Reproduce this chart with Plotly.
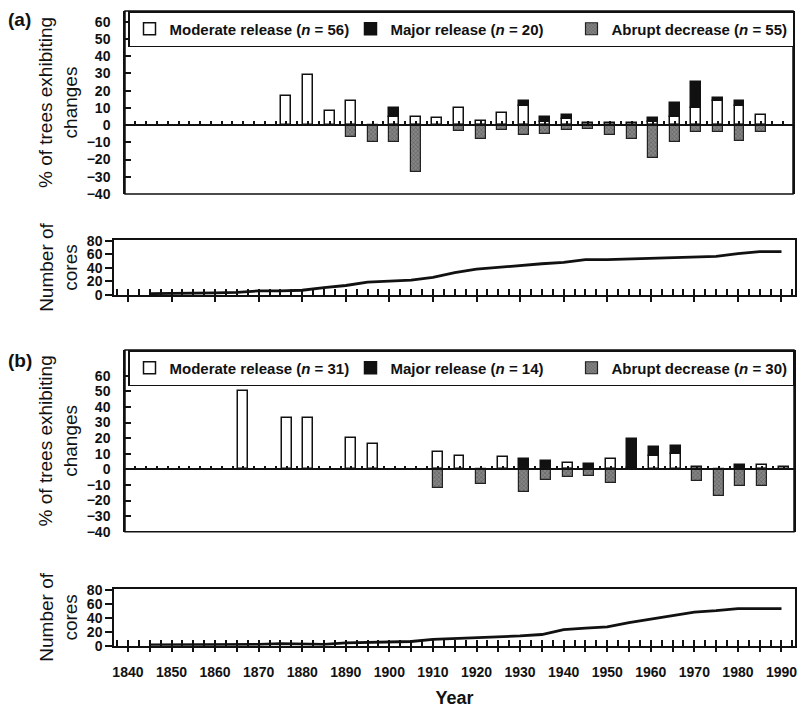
import plotly.graph_objects as go

# picture size; the page's default body margin is removed when the page loads
W, H = 799, 708
PAGE_MARGIN = 0

# ---------------- data ----------------
bar_years_a = [1875, 1880, 1885, 1890, 1895, 1900, 1905, 1910, 1915, 1920, 1925, 1930,
               1935, 1940, 1945, 1950, 1955, 1960, 1965, 1970, 1975, 1980, 1985]
moderate_a = [17, 29, 8, 14, None, 5, 4.5, 4, 10, 2.5, 7, 11,
              2, 3.5, 1.5, 1, 1, 2, 5, 10, 14, 11, 6]
major_a = [None, None, None, None, None, 5, None, None, None, None, None, 3,
           2.5, 2.5, None, None, None, 2, 8, 15, 1.5, 3, None]
abrupt_a = [None, None, None, -7, -10, -10, -27, None, -3.5, -8, -3, -5.5,
            -5, -3, -2.5, -6, -8, -19, -10, -4, -4, -9, -4]

bar_years_b = [1865, 1870, 1875, 1880, 1885, 1890, 1895, 1900, 1905, 1910, 1915, 1920, 1925,
               1930, 1935, 1940, 1945, 1950, 1955, 1960, 1965, 1970, 1975, 1980, 1985, 1990]
moderate_b = [50, None, 33, 33, None, 20, 16.5, None, None, 11, 8.5, None, 8,
              None, None, 4, None, 6.5, 1, 8.5, 10, 1.5, None, 0.5, 3, 1.5]
major_b = [None, None, None, None, None, None, None, None, None, None, None, None, None,
           6.5, 5.5, None, 3.5, None, 18.5, 6, 5, None, None, 2.5, None, None]
abrupt_b = [None, None, None, None, None, None, None, None, None, -12, None, -9.5, None,
            -14.5, -7, -5, -4.5, -8.5, None, None, None, -7.5, -17, -10.5, -10.5, None]

core_years = [1845, 1850, 1855, 1860, 1865, 1870, 1875, 1880, 1885, 1890, 1895, 1900,
              1905, 1910, 1915, 1920, 1925, 1930, 1935, 1940, 1945, 1950, 1955, 1960,
              1965, 1970, 1975, 1980, 1985, 1990]
cores_a = [2, 2, 2, 3, 4, 6, 6, 7, 11, 14, 19, 21,
           22, 26, 33, 38, 41, 43, 46, 48, 52, 52, 53, 54,
           54, 55, 57, 61, 64, 64]
cores_b = [1, 1, 1, 1, 2, 2, 3, 2, 2, 4, 5, 5,
           6, 9, 10, 11, 12, 14, 16, 23, 25, 27, 33, 38,
           43, 48, 50, 53, 53, 53]

legend_a = ["Moderate release (<i>n</i> = 56)", "Major release (<i>n</i> = 20)",
            "Abrupt decrease (<i>n</i> = 55)"]
legend_b = ["Moderate release (<i>n</i> = 31)", "Major release (<i>n</i> = 14)",
            "Abrupt decrease (<i>n</i> = 30)"]

pct_ticks = [-40, -30, -20, -10, 0, 10, 20, 30, 40, 50, 60]
core_ticks = [0, 20, 40, 60, 80]
year_ticks = [1840, 1845, 1850, 1855, 1860, 1865, 1870, 1875, 1880, 1885, 1890, 1895,
              1900, 1905, 1910, 1915, 1920, 1925, 1930, 1935, 1940, 1945, 1950, 1955,
              1960, 1965, 1970, 1975, 1980, 1985, 1990]
year_labels = ["1840", "", "1850", "", "1860", "", "1870", "", "1880", "", "1890", "",
               "1900", "", "1910", "", "1920", "", "1930", "", "1940", "", "1950", "",
               "1960", "", "1970", "", "1980", "", "1990"]

# ---------------- styling / layout helpers ----------------
FONT = "Liberation Sans, Arial, Helvetica, sans-serif"
INK = "#111111"


def px(xpix):
    return (xpix - PAGE_MARGIN) / W


def py(ypix):
    return 1 - (ypix - PAGE_MARGIN) / H


def dx(a, b):
    return [px(a), px(b)]


def dy(top, bottom):
    return [py(bottom), py(top)]


A_bar_x, A_bar_y = dx(125, 793), dy(11, 194)
A_core_x, A_core_y = dx(114, 795), dy(240, 295)
B_bar_x, B_bar_y = dx(125, 794), dy(350, 531.7)
B_core_x, B_core_y = dx(114, 795), dy(589, 645.7)

bar_xrange = [1837.6, 1992.4]
core_xrange = [1836.8, 1993.1]
A_yrange = [-40, 66.3]
B_yrange = [-40, 76.5]
core_yrange = [0, 81]


def zero_pos(dom, rng):
    return dom[0] + (0 - rng[0]) / (rng[1] - rng[0]) * (dom[1] - dom[0])


tickfont = dict(family=FONT, size=14, color=INK, weight="bold")
titlefont = dict(family=FONT, size=19, color=INK)

fig = go.Figure()

white_style = dict(color="white", line=dict(color=INK, width=1.5))
black_style = dict(color=INK, line=dict(color=INK, width=1.5))
gray_style = dict(color="#777777", line=dict(color="#222222", width=1.2),
                  pattern=dict(shape="x", size=3, solidity=0.35, fgcolor="#333333", bgcolor="#858585"))

for (yrs, mod, maj, abr, names, xa, ya, leg) in [
        (bar_years_a, moderate_a, major_a, abrupt_a, legend_a, "x", "y", "legend"),
        (bar_years_b, moderate_b, major_b, abrupt_b, legend_b, "x3", "y3", "legend2")]:
    fig.add_trace(go.Bar(x=yrs, y=mod, name=names[0], marker=white_style, width=2.3,
                         xaxis=xa, yaxis=ya, legend=leg))
    fig.add_trace(go.Bar(x=yrs, y=maj, name=names[1], marker=black_style, width=2.3,
                         xaxis=xa, yaxis=ya, legend=leg))
    fig.add_trace(go.Bar(x=yrs, y=abr, name=names[2], marker=gray_style, width=2.3,
                         xaxis=xa, yaxis=ya, legend=leg))

fig.add_trace(go.Scatter(x=core_years, y=cores_a, mode="lines", line=dict(color=INK, width=2.8),
                         xaxis="x2", yaxis="y2", showlegend=False))
fig.add_trace(go.Scatter(x=core_years, y=cores_b, mode="lines", line=dict(color=INK, width=2.8),
                         xaxis="x4", yaxis="y4", showlegend=False))


def bar_xaxis(dom, ydom, yrng):
    return dict(domain=dom, range=bar_xrange, anchor="free", position=zero_pos(ydom, yrng),
                showline=True, linecolor=INK, linewidth=1.5, automargin=False,
                ticks="inside", tick0=1840, dtick=2.5, ticklen=3, tickwidth=1.5, tickcolor=INK,
                showticklabels=False, showgrid=False, zeroline=False, fixedrange=True)


def bar_yaxis(dom, rng, xname):
    return dict(domain=dom, range=rng, anchor=xname, showline=True, mirror=True,
                linecolor=INK, linewidth=1.5, ticks="inside", ticklen=6, tickwidth=1.5,
                tickcolor=INK, tickvals=pct_ticks, tickfont=tickfont, ticklabelstandoff=10,
                showgrid=False, zeroline=False, automargin=False,
                title=dict(text="% of trees exhibiting<br>changes", font=titlefont, standoff=4))


def core_xaxis(dom, yname, labels):
    return dict(domain=dom, range=core_xrange, anchor=yname, showline=True, mirror=True,
                linecolor=INK, linewidth=1.5, ticks="outside", ticklen=5, tickwidth=1.5,
                tickcolor=INK, tickvals=year_ticks, ticktext=year_labels,
                showticklabels=labels, tickfont=tickfont, ticklabelstandoff=8,
                minor=dict(ticks="inside", dtick=2.5, tick0=1840, ticklen=6,
                           tickwidth=1.5, tickcolor=INK, showgrid=False),
                showgrid=False, zeroline=False, automargin=False)


def core_yaxis(dom, xname):
    return dict(domain=dom, range=core_yrange, anchor=xname, showline=True, mirror=True,
                linecolor=INK, linewidth=1.5, ticks="outside", ticklen=7, tickwidth=1.5,
                tickcolor=INK, tickvals=core_ticks, tickfont=tickfont,
                showgrid=False, zeroline=False, automargin=False,
                title=dict(text="Number of<br>cores", font=titlefont, standoff=4))


x4 = core_xaxis(B_core_x, "y4", True)
x4["title"] = dict(text="Year", font=dict(family=FONT, size=18, color=INK, weight="bold"),
                   standoff=12)

legend_common = dict(orientation="h", xanchor="left", yanchor="top", bgcolor="white",
                     bordercolor=INK, borderwidth=1.5,
                     font=dict(family=FONT, size=15, color=INK, weight="bold"),
                     itemwidth=30, entrywidthmode="pixels", entrywidth=176,
                     traceorder="normal", itemclick=False)

frame = dict(type="rect", x0=0, x1=1, y0=0, y1=1, line=dict(color=INK, width=1.5),
             fillcolor="rgba(0,0,0,0)", layer="above")

fig.update_layout(
    width=W, height=H, margin=dict(l=0, r=0, t=0, b=0, autoexpand=False),
    paper_bgcolor="white", plot_bgcolor="white",
    barmode="relative", bargap=0,
    font=dict(family=FONT, color=INK),
    xaxis=bar_xaxis(A_bar_x, A_bar_y, A_yrange),
    yaxis=bar_yaxis(A_bar_y, A_yrange, "x"),
    xaxis2=core_xaxis(A_core_x, "y2", False),
    yaxis2=core_yaxis(A_core_y, "x2"),
    xaxis3=bar_xaxis(B_bar_x, B_bar_y, B_yrange),
    yaxis3=bar_yaxis(B_bar_y, B_yrange, "x3"),
    xaxis4=x4,
    yaxis4=core_yaxis(B_core_y, "x4"),
    legend=dict(x=px(128), y=py(11), **legend_common),
    legend2=dict(x=px(128), y=py(350), **legend_common),
    shapes=[dict(frame, xref="x domain", yref="y domain"),
            dict(frame, xref="x3 domain", yref="y3 domain")],
    annotations=[
        dict(text="(a)", x=px(6), y=py(20), xref="paper", yref="paper", xanchor="left",
             yanchor="middle", showarrow=False,
             font=dict(family=FONT, size=19, color=INK, weight="bold")),
        dict(text="(b)", x=px(6), y=py(360), xref="paper", yref="paper", xanchor="left",
             yanchor="middle", showarrow=False,
             font=dict(family=FONT, size=19, color=INK, weight="bold")),
    ],
)

fig.write_html(
    "out.html",
    config={"displayModeBar": False},
    post_script="document.body.style.margin='0';document.body.style.overflow='hidden';",
)
